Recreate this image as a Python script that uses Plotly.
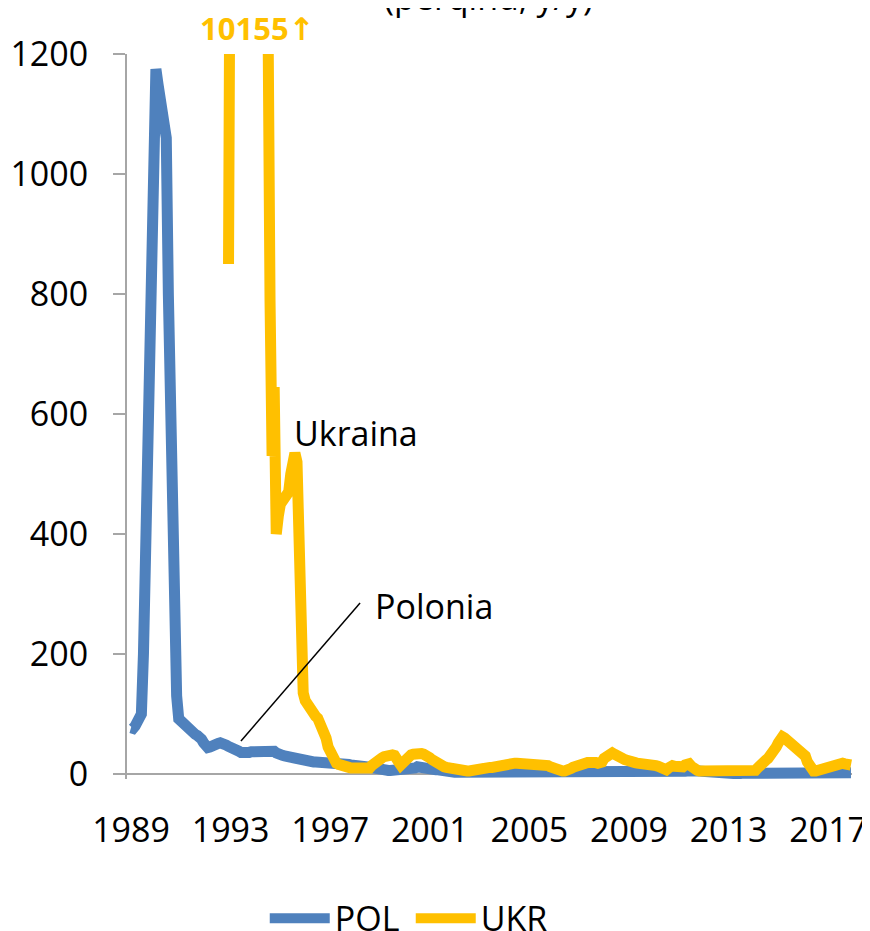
import plotly.graph_objects as go

# ---- data (monthly, Jan 1989 .. Dec 2017), y/y inflation in percent ----
tick_years = [1989, 1993, 1997, 2001, 2005, 2009, 2013, 2017]

pol_by_year = [
    [77, 76, 80, 85, 90, 100, 200, 370, 540, 750, 880, 1000],          # 1989
    [1175, 1150, 1130, 1110, 1090, 1060, 800, 560, 310, 235, 130, 92],  # 1990
    [88, 84, 80, 76, 72, 70, 68, 66, 64, 62, 58, 52],                   # 1991
    [46, 44, 45, 48, 49, 50, 51, 52, 52, 50, 48, 46],                   # 1992
    [45, 45, 43, 40, 38, 36, 35, 35, 35, 36, 37, 37],                   # 1993
    [37, 37, 36, 38, 40, 39, 40, 40, 40, 38, 35, 32],                   # 1994
    [32, 31, 30, 29, 28, 27, 26, 25, 24, 23, 23, 22],                   # 1995
    [22, 21, 21, 21, 20, 20, 20, 20, 20, 19, 19, 19],                   # 1996
    [18, 18, 18, 17, 17, 17, 17, 17, 16, 16, 15, 15],                   # 1997
    [15, 15, 15, 14, 14, 14, 13, 12, 11, 10, 9, 8],                     # 1998
    [6, 6, 6, 6, 6, 6, 6, 7, 8, 9, 9, 10],                              # 1999
    [10, 10, 10, 10, 10, 10, 12, 11, 10, 10, 9, 9],                     # 2000
    [7, 7, 6, 7, 7, 6, 5, 5, 4, 4, 4, 4],                               # 2001
    [3, 3, 3, 3, 2, 2, 1, 1, 1, 1, 1, 1],                               # 2002
    [0.5, 0.5, 0.6, 0.3, 0.4, 0.8, 0.8, 0.7, 0.9, 1.3, 1.6, 1.7],       # 2003
    [1.6, 1.6, 1.7, 2.2, 3.4, 4.4, 4.6, 4.6, 4.4, 4.5, 4.5, 4.4],       # 2004
    [4.0, 3.6, 3.4, 3.0, 2.5, 1.4, 1.3, 1.6, 1.8, 1.6, 1.0, 0.7],       # 2005
    [0.6, 0.7, 0.4, 0.7, 0.9, 0.8, 1.1, 1.6, 1.6, 1.2, 1.4, 1.4],       # 2006
    [1.6, 1.9, 2.5, 2.3, 2.3, 2.6, 2.3, 1.5, 2.3, 3.0, 3.6, 4.0],       # 2007
    [4.2, 4.2, 4.1, 4.0, 4.4, 4.6, 4.8, 4.8, 4.5, 4.2, 3.7, 3.3],       # 2008
    [2.8, 3.3, 3.6, 4.0, 3.6, 3.5, 3.6, 3.7, 3.4, 3.1, 3.3, 3.5],       # 2009
    [3.5, 2.9, 2.6, 2.4, 2.2, 2.3, 2.0, 2.0, 2.5, 2.8, 2.7, 3.1],       # 2010
    [3.6, 3.6, 4.3, 4.5, 5.0, 4.2, 4.1, 4.3, 3.9, 4.3, 4.8, 4.6],       # 2011
    [4.1, 4.3, 3.9, 4.0, 3.6, 4.3, 4.0, 3.8, 3.8, 3.4, 2.8, 2.4],       # 2012
    [1.7, 1.3, 1.0, 0.8, 0.5, 0.2, 1.1, 1.1, 1.0, 0.8, 0.6, 0.7],       # 2013
    [0.5, 0.7, 0.7, 0.3, 0.2, 0.3, -0.2, -0.3, -0.3, -0.6, -0.6, -1.0], # 2014
    [-1.4, -1.6, -1.5, -1.1, -0.9, -0.8, -0.7, -0.6, -0.8, -0.7, -0.6, -0.5],  # 2015
    [-0.9, -0.8, -0.9, -1.1, -0.9, -0.8, -0.9, -0.8, -0.5, -0.2, 0.0, 0.8],    # 2016
    [1.7, 2.2, 2.0, 2.0, 1.9, 1.5, 1.7, 1.8, 2.2, 2.1, 2.5, 2.1],       # 2017
]

N = None
ukr_by_year = [
    [N] * 12,                                                             # 1989
    [N] * 12,                                                             # 1990
    [N] * 12,                                                             # 1991
    [N] * 11 + [850],                                                     # 1992
    [960, 1070, 1180, 1280, 2500, 3500, 4500, 5500, 6500, 7500, 8500, 10155],  # 1993
    [9000, 7000, 5000, 3000, 2000, 1600, 1280, 790, 530, 645, 400, 430],  # 1994
    [450, 455, 460, 465, 470, 500, 530, 535, 520, 350, 160, 135],        # 1995
    [122, 115, 112, 105, 100, 96, 93, 86, 80, 72, 60, 45],               # 1996
    [35, 28, 22, 18, 16, 14, 13, 12, 11, 11, 10, 10],                    # 1997
    [10, 9, 9, 9, 9, 9, 9, 10, 14, 18, 20, 23],                          # 1998
    [25, 27, 29, 31, 32, 32, 32, 31, 28, 20, 15, 20],                    # 1999
    [24, 28, 30, 32, 33, 34, 35, 35, 34, 33, 32, 30],                    # 2000
    [27, 24, 21, 19, 17, 15, 13, 12, 11, 10, 9, 8],                      # 2001
    [7, 7, 6, 6, 6, 5, 5, 5, 6, 6, 7, 8],                                # 2002
    [8, 9, 9, 10, 10, 11, 11, 12, 13, 14, 14, 15],                       # 2003
    [15, 16, 16, 17, 17, 18, 18, 18, 18, 18, 18, 18],                    # 2004
    [18, 18, 18, 18, 18, 18, 17, 16, 15, 14, 12, 10],                    # 2005
    [9, 8, 7, 6, 5, 5, 5, 7, 9, 11, 13, 15],                             # 2006
    [15, 16, 17, 18, 19, 20, 20, 20, 19, 18, 17, 20],                    # 2007
    [26, 30, 33, 35, 35, 33, 30, 28, 27, 25, 24, 23],                    # 2008
    [23, 22, 20, 19, 18, 18, 18, 18, 18, 18, 17, 16],                    # 2009
    [14, 14, 13, 12, 10, 7, 7, 10, 14, 14, 13, 12],                      # 2010
    [11, 10, 12, 15, 18, 17, 13, 9, 7, 6, 5, 5],                         # 2011
    [4, 4, 3, 3, 3, 2, 2, 2, 2, 2, 2, 2],                                # 2012
    [2, 2, 2, 2, 2, 2, 2, 2, 2, 2, 3, 3],                                # 2013
    [3, 6, 10, 15, 18, 20, 23, 26, 30, 33, 38, 45],                      # 2014
    [52, 58, 62, 60, 57, 55, 52, 50, 47, 43, 40, 38],                    # 2015
    [37, 30, 20, 12, 7, 5, 5, 6, 7, 9, 12, 14],                          # 2016
    [15, 16, 17, 17, 16, 17, 18, 18, 17, 16, 15, 15],                    # 2017
]

pol = [v for row in pol_by_year for v in row]
ukr = [v for row in ukr_by_year for v in row]
months = list(range(len(pol)))  # month index from Jan 1989

tickvals = [(y - 1989) * 12 for y in tick_years]
ticktext = [str(y) for y in tick_years]

BLUE = "#4F81BD"
YELLOW = "#FFC000"
GREY = "#A6A6A6"
FONT = "Open Sans"

# the page body has an 8px margin: the figure is sized so that it fills the window
W, H = 862, 923

fig = go.Figure()
fig.add_trace(go.Scatter(x=months, y=pol, name="POL", mode="lines",
                         line=dict(color=BLUE, width=11)))
fig.add_trace(go.Scatter(x=months, y=ukr, name="UKR", mode="lines",
                         line=dict(color=YELLOW, width=11), connectgaps=False))

fig.update_layout(
    width=W, height=H,
    margin=dict(l=119, r=18, t=46, b=152, autoexpand=False),
    paper_bgcolor="white", plot_bgcolor="white",
    font=dict(family=FONT, size=34, color="#000000"),
    showlegend=True,
    legend=dict(orientation="h", x=0.190, xanchor="left", y=-0.1925, yanchor="middle",
                font=dict(size=34, family=FONT), itemwidth=60, entrywidth=71,
                bgcolor="rgba(0,0,0,0)"),
    xaxis=dict(range=[-1.93, 347.5], tickvals=tickvals, ticktext=ticktext,
               showgrid=False, zeroline=False, showline=False, ticks="",
               ticklabelstandoff=28, tickfont=dict(size=34), automargin=False),
    yaxis=dict(range=[-8.33, 1200], tickvals=[0, 200, 400, 600, 800, 1000, 1200],
               showgrid=False, zeroline=True, zerolinecolor=GREY, zerolinewidth=2,
               showline=True, linecolor=GREY, linewidth=2,
               ticks="outside", ticklen=12, tickcolor=GREY, tickwidth=2,
               ticklabelstandoff=18, tickfont=dict(size=34), automargin=False),
)

# Polonia leader line
fig.add_shape(type="line", xref="x", yref="y", x0=53.0, y0=55, x1=110.4, y1=285,
              line=dict(color="black", width=1.5))

fig.add_annotation(x=116.6, y=280, xref="x", yref="y", text="Polonia", showarrow=False,
                   xanchor="left", yanchor="middle", font=dict(size=34, family=FONT))
fig.add_annotation(x=77.5, y=568, xref="x", yref="y", text="Ukraina", showarrow=False,
                   xanchor="left", yanchor="middle", font=dict(size=34, family=FONT))
# label for the off-scale Ukrainian peak (placed above the plot area)
fig.add_annotation(x=(198 - 127) / 725, y=(779 - 28) / 725, xref="paper", yref="paper",
                   text="<b>10155<span style='font-family:DejaVu Sans'>↑</span></b>",
                   showarrow=False, xanchor="left", yanchor="middle",
                   font=dict(size=31, family=FONT, color=YELLOW))
fig.add_annotation(x=0.498, y=1.079, xref="paper", yref="paper", text="(përqind, y/y)",
                   showarrow=False, xanchor="center", yanchor="middle",
                   font=dict(size=34, family=FONT))

fig.write_html("out.html")
